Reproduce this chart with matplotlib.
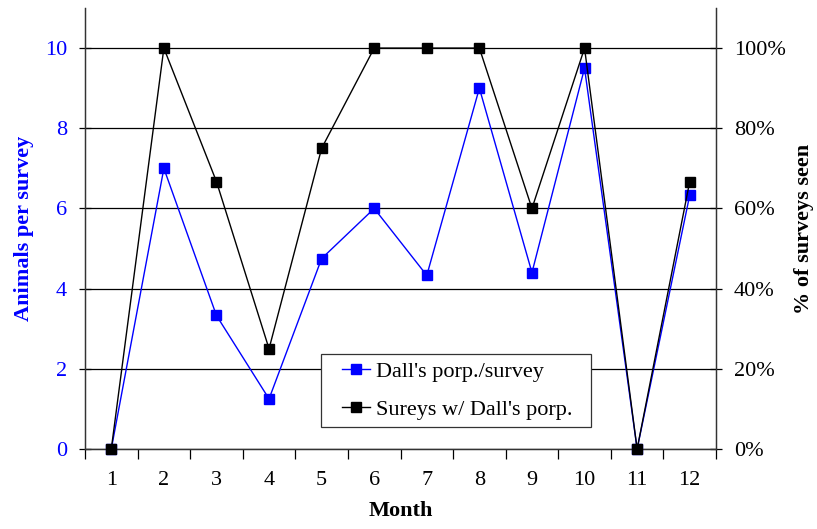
import matplotlib
matplotlib.use("Agg")
import matplotlib.pyplot as plt
from matplotlib.ticker import FixedLocator, PercentFormatter
from matplotlib.offsetbox import HPacker, DrawingArea

plt.rcParams['font.family'] = ['Liberation Serif', 'DejaVu Serif']

months = [1, 2, 3, 4, 5, 6, 7, 8, 9, 10, 11, 12]
animals_per_survey = [0, 7, 3.33, 1.25, 4.75, 6, 4.33, 9, 4.4, 9.5, 0, 6.33]
pct_surveys_seen = [0, 100, 66.7, 25, 75, 100, 100, 100, 60, 100, 0, 66.7]

BLUE = '#0000FF'
FS = 16

fig = plt.figure(figsize=(8.17, 5.29), dpi=100)
ax = fig.add_axes([85/817, 1-449/529, (716-85)/817, (449-8)/529])
ax2 = ax.twinx()

ax.set_xlim(0.5, 12.5)
ax.set_ylim(0, 11)
ax2.set_ylim(0, 110)

ax.set_yticks([0, 2, 4, 6, 8, 10])
ax.yaxis.grid(True, color='black', linewidth=0.9)
ax.set_axisbelow(True)

ax.set_xticks(months)
ax.xaxis.set_minor_locator(FixedLocator([m + 0.5 for m in [0] + months]))
ax.tick_params(axis='x', which='major', length=0, labelsize=FS, pad=15.5)
ax.tick_params(axis='x', which='minor', length=7, direction='out', width=0.9)
ax.tick_params(axis='y', length=9, direction='inout', labelsize=FS, labelcolor=BLUE,
               width=0.9, pad=8.5)

ax2.set_yticks([0, 20, 40, 60, 80, 100])
ax2.yaxis.set_major_formatter(PercentFormatter(decimals=0))
ax2.tick_params(axis='y', length=9, direction='inout', labelsize=FS, width=0.9, pad=8.5)

for a in (ax, ax2):
    a.spines['top'].set_visible(False)
    for s in ('left', 'right', 'bottom'):
        a.spines[s].set_color('#333333')
        a.spines[s].set_linewidth(0.9)

ln2, = ax2.plot(months, pct_surveys_seen, color='black', linewidth=1.0,
                marker='s', markersize=7, label="Sureys w/ Dall's porp.", clip_on=False, zorder=3)
ln1, = ax2.plot(months, [v * 10 for v in animals_per_survey], color=BLUE, linewidth=1.0,
                marker='s', markersize=7, label="Dall's porp./survey", clip_on=False, zorder=2)

ax.set_xlabel('Month', fontsize=FS, fontweight='bold', labelpad=8)
ax.set_ylabel('Animals per survey', fontsize=FS, fontweight='bold', color=BLUE, labelpad=7.5)
ax2.set_ylabel('% of surveys seen', fontsize=FS, fontweight='bold', labelpad=6, rotation=90)

leg = ax2.legend(handles=[ln1, ln2], loc='upper left', bbox_to_anchor=(0.374, 0.2143),
                 borderaxespad=0, fontsize=FS, frameon=True, fancybox=False, shadow=False,
                 edgecolor='#333333', framealpha=1, handlelength=1.25, handletextpad=0.3,
                 borderpad=0.32, labelspacing=0.78, markerscale=1.0)
leg.get_frame().set_linewidth(0.9)
leg.set_zorder(5)

# extra horizontal padding inside the legend frame (left / right)
try:
    kids = leg._legend_box._children
    hb = kids[-1]
    kids[-1] = HPacker(pad=0, sep=0, align='center',
                       children=[DrawingArea(10, 1), hb, DrawingArea(8, 1)])
except Exception:
    pass

fig.savefig('out.png', dpi=100)
